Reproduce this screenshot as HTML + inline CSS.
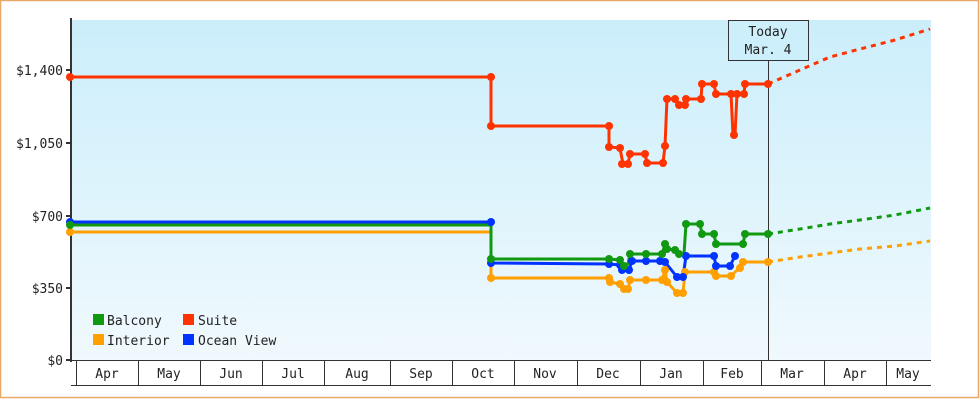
<!DOCTYPE html>
<html><head><style>
html,body{margin:0;padding:0;background:#fff}
svg{display:block}
text{font-family:"DejaVu Sans Mono","Liberation Mono",monospace;font-size:13px;fill:#222}
</style></head><body>
<svg width="980" height="400" viewBox="0 0 980 400">
<defs>
<linearGradient id="bg" x1="0" y1="0" x2="0" y2="1">
<stop offset="0" stop-color="#cbeefb"/><stop offset="1" stop-color="#f0f9fd"/>
</linearGradient>
</defs>
<rect x="0.5" y="0.5" width="978" height="397" fill="#fff" stroke="#e8a868" stroke-width="1.5"/>
<rect x="71" y="20" width="860" height="340" fill="url(#bg)"/>
<line x1="71" y1="18" x2="71" y2="362" stroke="#333" stroke-width="2"/>
<g stroke="#333" stroke-width="2">
<line x1="66" y1="70" x2="71" y2="70"/><line x1="66" y1="143" x2="71" y2="143"/>
<line x1="66" y1="216" x2="71" y2="216"/><line x1="66" y1="288" x2="71" y2="288"/>
<line x1="66" y1="360" x2="71" y2="360"/>
</g>
<g text-anchor="end">
<text x="63" y="75">$1,400</text><text x="63" y="148">$1,050</text>
<text x="63" y="221">$700</text><text x="63" y="293">$350</text><text x="63" y="365">$0</text>
</g>
<g stroke="#333" stroke-width="1">
<line x1="71" y1="360.5" x2="931" y2="360.5"/>
<line x1="71" y1="385.5" x2="931" y2="385.5"/>
<line x1="76.5" y1="360" x2="76.5" y2="385"/>
<line x1="138.5" y1="360" x2="138.5" y2="385"/><line x1="200.5" y1="360" x2="200.5" y2="385"/>
<line x1="262.5" y1="360" x2="262.5" y2="385"/><line x1="324.5" y1="360" x2="324.5" y2="385"/>
<line x1="390.5" y1="360" x2="390.5" y2="385"/><line x1="452.5" y1="360" x2="452.5" y2="385"/>
<line x1="514.5" y1="360" x2="514.5" y2="385"/><line x1="577.5" y1="360" x2="577.5" y2="385"/>
<line x1="640.5" y1="360" x2="640.5" y2="385"/><line x1="703.5" y1="360" x2="703.5" y2="385"/>
<line x1="761.5" y1="360" x2="761.5" y2="385"/><line x1="824.5" y1="360" x2="824.5" y2="385"/>
<line x1="886.5" y1="360" x2="886.5" y2="385"/>
</g>
<g text-anchor="middle">
<text x="107" y="378">Apr</text><text x="169" y="378">May</text><text x="231" y="378">Jun</text>
<text x="293" y="378">Jul</text><text x="357" y="378">Aug</text><text x="421" y="378">Sep</text>
<text x="483" y="378">Oct</text><text x="545" y="378">Nov</text><text x="608" y="378">Dec</text>
<text x="671" y="378">Jan</text><text x="732" y="378">Feb</text><text x="792" y="378">Mar</text>
<text x="855" y="378">Apr</text><text x="908" y="378">May</text>
</g>
<line x1="768.5" y1="60" x2="768.5" y2="360" stroke="#333" stroke-width="1"/>
<rect x="728.5" y="20.5" width="80" height="40" fill="#cdeefb" stroke="#333"/>
<text x="768" y="36" text-anchor="middle">Today</text>
<text x="768" y="54" text-anchor="middle">Mar. 4</text>

<g fill="none" stroke-width="3" stroke-dasharray="5,5">
<polyline stroke="#ff3300" points="768,84 800,70 830,57 860,49 895,40 930,29"/>
<polyline stroke="#119911" points="768,234 800,229 830,224 860,220 895,215 930,208"/>
<polyline stroke="#ffa000" points="768,262 800,257 830,253 860,249 895,246 930,241"/>
</g>

<g fill="none" stroke-width="3" stroke-linejoin="round">
<polyline stroke="#ffa000" points="70,232 491,232 491,278 609,278 610,282 620,284 624,289 628,289 630,280 646,280 662,280 665,270 667,282 677,293 683,293 685,272 714,272 716,276 731,276 735,272 740,268 743,262 768,262"/>
<polyline stroke="#0033ff" points="70,222 491,222 491,263 609,264 620,265 622,270 629,270 632,261 646,261 660,261 665,262 677,277 683,277 686,256 714,256 716,266 730,266 735,256"/>
<polyline stroke="#119911" points="70,225 491,225 491,259 609,259 620,260 624,266 628,264 630,254 646,254 662,254 665,244 667,249 675,250 679,254 684,254 686,224 700,224 702,234 714,234 716,244 743,244 745,234 768,234"/>
<polyline stroke="#ff3300" points="70,77 491,77 491,126 609,126 609,147 620,148 622,159 624,164 628,164 630,154 645,154 647,163 663,163 665,146 667,99 675,99 679,105 685,105 686,99 701,99 702,84 714,84 716,94 731,94 733,135 735,135 737,94 744,94 745,84 768,84"/>
</g>
<g fill="#ffa000">
<circle cx="70" cy="232" r="4"/><circle cx="491" cy="278" r="4"/><circle cx="609" cy="278" r="4"/><circle cx="610" cy="282" r="4"/><circle cx="620" cy="284" r="4"/><circle cx="624" cy="289" r="4"/><circle cx="628" cy="289" r="4"/><circle cx="630" cy="280" r="4"/><circle cx="646" cy="280" r="4"/><circle cx="662" cy="280" r="4"/><circle cx="665" cy="270" r="4"/><circle cx="667" cy="282" r="4"/><circle cx="677" cy="293" r="4"/><circle cx="683" cy="293" r="4"/><circle cx="685" cy="272" r="4"/><circle cx="714" cy="272" r="4"/><circle cx="716" cy="276" r="4"/><circle cx="731" cy="276" r="4"/><circle cx="740" cy="268" r="4"/><circle cx="743" cy="262" r="4"/><circle cx="768" cy="262" r="4"/>
</g>
<g fill="#0033ff">
<circle cx="70" cy="222" r="4"/><circle cx="491" cy="222" r="4"/><circle cx="491" cy="263" r="4"/><circle cx="609" cy="264" r="4"/><circle cx="620" cy="265" r="4"/><circle cx="622" cy="270" r="4"/><circle cx="629" cy="270" r="4"/><circle cx="632" cy="261" r="4"/><circle cx="646" cy="261" r="4"/><circle cx="660" cy="261" r="4"/><circle cx="665" cy="262" r="4"/><circle cx="677" cy="277" r="4"/><circle cx="683" cy="277" r="4"/><circle cx="686" cy="256" r="4"/><circle cx="714" cy="256" r="4"/><circle cx="716" cy="266" r="4"/><circle cx="730" cy="266" r="4"/><circle cx="735" cy="256" r="4"/>
</g>
<g fill="#119911">
<circle cx="70" cy="225" r="4"/><circle cx="491" cy="259" r="4"/><circle cx="609" cy="259" r="4"/><circle cx="620" cy="260" r="4"/><circle cx="624" cy="266" r="4"/><circle cx="630" cy="254" r="4"/><circle cx="646" cy="254" r="4"/><circle cx="662" cy="254" r="4"/><circle cx="665" cy="244" r="4"/><circle cx="667" cy="249" r="4"/><circle cx="675" cy="250" r="4"/><circle cx="679" cy="254" r="4"/><circle cx="686" cy="224" r="4"/><circle cx="700" cy="224" r="4"/><circle cx="702" cy="234" r="4"/><circle cx="714" cy="234" r="4"/><circle cx="716" cy="244" r="4"/><circle cx="743" cy="244" r="4"/><circle cx="745" cy="234" r="4"/><circle cx="768" cy="234" r="4"/>
</g>
<g fill="#ff3300">
<circle cx="70" cy="77" r="4"/><circle cx="491" cy="77" r="4"/><circle cx="491" cy="126" r="4"/><circle cx="609" cy="126" r="4"/><circle cx="609" cy="147" r="4"/><circle cx="620" cy="148" r="4"/><circle cx="622" cy="164" r="4"/><circle cx="628" cy="164" r="4"/><circle cx="630" cy="154" r="4"/><circle cx="645" cy="154" r="4"/><circle cx="647" cy="163" r="4"/><circle cx="663" cy="163" r="4"/><circle cx="665" cy="146" r="4"/><circle cx="667" cy="99" r="4"/><circle cx="675" cy="99" r="4"/><circle cx="679" cy="105" r="4"/><circle cx="685" cy="105" r="4"/><circle cx="686" cy="99" r="4"/><circle cx="701" cy="99" r="4"/><circle cx="702" cy="84" r="4"/><circle cx="714" cy="84" r="4"/><circle cx="716" cy="94" r="4"/><circle cx="731" cy="94" r="4"/><circle cx="734" cy="135" r="4"/><circle cx="737" cy="94" r="4"/><circle cx="744" cy="94" r="4"/><circle cx="745" cy="84" r="4"/><circle cx="768" cy="84" r="4"/>
</g>

<rect x="93" y="314" width="11" height="11" fill="#119911"/>
<text x="107" y="325">Balcony</text>
<rect x="183" y="314" width="11" height="11" fill="#ff3300"/>
<text x="198" y="325">Suite</text>
<rect x="93" y="334" width="11" height="11" fill="#ffa000"/>
<text x="107" y="345">Interior</text>
<rect x="183" y="334" width="11" height="11" fill="#0033ff"/>
<text x="198" y="345">Ocean View</text>
</svg>
</body></html>
